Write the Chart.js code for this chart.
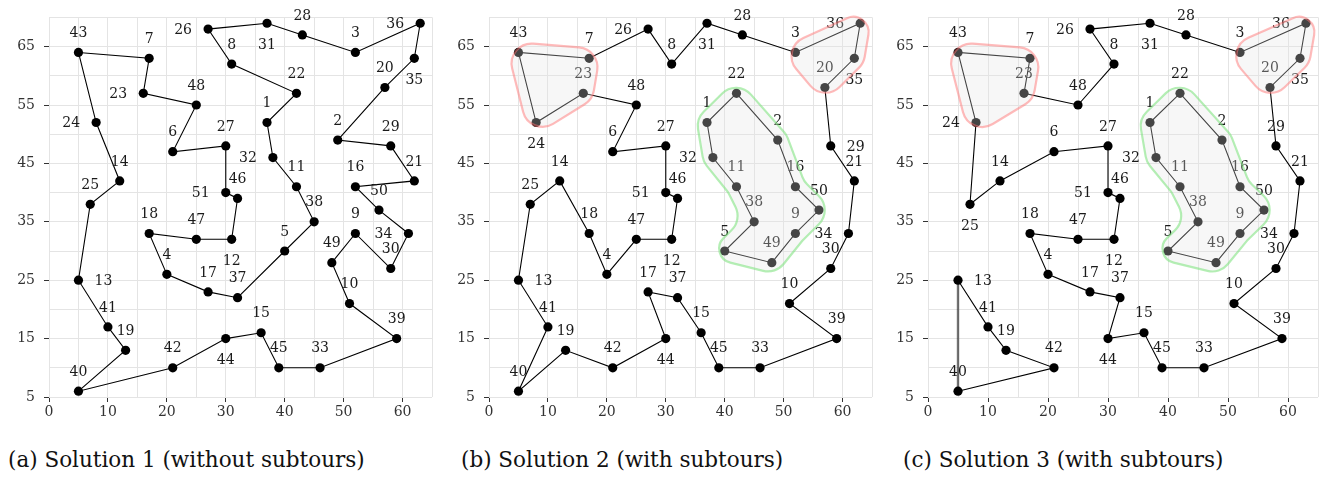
<!DOCTYPE html>
<html>
<head>
<meta charset="utf-8">
<script src="https://cdn.jsdelivr.net/npm/chart.js@4.4.1/dist/chart.umd.min.js"></script>
<style>
  body { margin: 0; background: #fff; width: 1327px; height: 479px; position: relative; overflow: hidden; }
  canvas { position: absolute; top: 0; }
  .cap { position: absolute; top: 447px; font-family: "DejaVu Serif"; font-size: 21.5px; color: #111; white-space: nowrap; }
</style>
</head>
<body>
<canvas id="pa" width="440" height="425" style="left:0px"></canvas>
<canvas id="pb" width="440" height="425" style="left:440px"></canvas>
<canvas id="pc" width="447" height="425" style="left:879px"></canvas>
<div class="cap" style="left:8px">(a) Solution 1 (without subtours)</div>
<div class="cap" style="left:461px">(b) Solution 2 (with subtours)</div>
<div class="cap" style="left:903px">(c) Solution 3 (with subtours)</div>
<script>
// city coordinates, city n is at index n-1
const cityX = [37,49,52,20,40,21,17,31,52,51,42,31,5,12,36,52,27,17,13,57,62,42,16,8,7,27,30,43,58,58,37,38,46,61,62,63,32,45,59,5,10,21,5,30,39,32,25,25,48,56,30];
const cityY = [52,49,64,26,30,47,63,62,33,21,41,32,25,42,16,41,23,33,13,58,42,57,57,52,38,68,48,67,48,27,69,46,10,33,63,69,22,35,15,6,17,10,64,15,10,39,32,55,28,37,40];

// routes (closed ones get the first city repeated when drawn)
const tourA = [43,7,23,48,6,27,51,46,12,47,18,4,17,37,5,38,11,32,1,22,8,26,31,28,3,36,35,20,2,29,21,16,50,34,30,9,49,10,39,33,45,15,44,42,40,19,41,13,25,14,24];
const tourB = [26,8,31,28,3,36,35,20,29,21,34,30,10,39,33,45,15,37,17,44,42,19,40,41,13,25,14,18,4,47,12,46,51,27,6,48,23,24,43,7];
const tourC = [25,24,43,7,23,48,8,26,31,28,3,36,35,20,29,21,34,30,10,39,33,45,15,44,37,17,4,18,47,12,46,51,27,6,14];
const subGreen = [22,2,16,50,9,49,5,38,11,32,1];
const subC = [40,42,19,41,13];
const subCClose = [13,40];

// highlighted groups
const hullLeft = [43,7,23,24];
const hullRight = [3,36,35,20];

// ticks
const xLabelled = [0,10,20,30,40,50,60];
const yLabelled = [5,15,25,35,45,55,65];

// label placement (T above is default)
const OFF = { T: [0,-20], B: [0,21], L: [-25,0], R: [25,0] };
const sidesCommon = {26:'L',51:'L',31:'B',36:'L',35:'B',32:'L',13:'R',34:'L',12:'B',44:'B'};
const sidesA = Object.assign({}, sidesCommon, {23:'L',24:'L'});
const sidesB = Object.assign({}, sidesCommon, {24:'B',29:'R'});
const sidesC = Object.assign({}, sidesCommon, {24:'L',25:'B'});

const RED = 'rgba(255,120,120,0.5)';
const GREEN = 'rgba(120,225,120,0.55)';

const serif = '"DejaVu Serif", serif';

function pts(ids, closed) {
  const p = ids.map(i => ({x: cityX[i-1], y: cityY[i-1]}));
  if (closed) p.push(p[0]);
  return p;
}

// expanded polygon with rounded corners (like a hull mark)
function hullPath(ctx, P, e, R) {
  const n = P.length;
  let A = 0;
  for (let i = 0; i < n; i++) {
    const a = P[i], b = P[(i+1)%n];
    A += a[0]*b[1] - b[0]*a[1];
  }
  const lines = [];
  for (let i = 0; i < n; i++) {
    const a = P[i], b = P[(i+1)%n];
    let dx = b[0]-a[0], dy = b[1]-a[1];
    const L = Math.hypot(dx, dy);
    dx /= L; dy /= L;
    const nx = A > 0 ? dy : -dy, ny = A > 0 ? -dx : dx;
    lines.push({p: [a[0]+nx*e, a[1]+ny*e], d: [dx, dy], n: [nx, ny]});
  }
  const Q = [];
  for (let i = 0; i < n; i++) {
    const l1 = lines[(i-1+n)%n], l2 = lines[i];
    const cr = l1.d[0]*l2.d[1] - l1.d[1]*l2.d[0];
    if (Math.abs(cr) < 1e-6) {
      Q.push([P[i][0]+l2.n[0]*e, P[i][1]+l2.n[1]*e]);
    } else {
      const bx = l2.p[0]-l1.p[0], by = l2.p[1]-l1.p[1];
      const t = (bx*l2.d[1] - by*l2.d[0]) / cr;
      Q.push([l1.p[0]+l1.d[0]*t, l1.p[1]+l1.d[1]*t]);
    }
  }
  const m0 = [(Q[n-1][0]+Q[0][0])/2, (Q[n-1][1]+Q[0][1])/2];
  ctx.moveTo(m0[0], m0[1]);
  for (let i = 0; i < n; i++) {
    const q = Q[i], pr = Q[(i-1+n)%n], nx = Q[(i+1)%n];
    const ax = pr[0]-q[0], ay = pr[1]-q[1], bx = nx[0]-q[0], by = nx[1]-q[1];
    const la = Math.hypot(ax, ay), lb = Math.hypot(bx, by);
    const cosT = Math.max(-1, Math.min(1, (ax*bx + ay*by) / (la*lb)));
    const half = Math.acos(cosT) / 2;
    const r = Math.min(R, 0.5*Math.min(la, lb)*Math.tan(half));
    ctx.arcTo(q[0], q[1], nx[0], nx[1], Math.max(r, 0.1));
  }
  ctx.closePath();
}

function labelPlugin(sides, hulls) {
  return {
    id: 'labelsHulls',
    afterDatasetsDraw(chart) {
      const ctx = chart.ctx, xs = chart.scales.x, ys = chart.scales.y;
      ctx.save();
      ctx.font = '14px ' + serif;
      ctx.fillStyle = '#1a1a1a';
      ctx.textAlign = 'center';
      ctx.textBaseline = 'middle';
      cityX.forEach((x, i) => {
        const id = i + 1;
        const o = OFF[sides[id] || 'T'];
        ctx.fillText(String(id), xs.getPixelForValue(x) + o[0], ys.getPixelForValue(cityY[i]) + o[1] + 1);
      });
      hulls.forEach(h => {
        const P = h.ids.map(id => [xs.getPixelForValue(cityX[id-1]), ys.getPixelForValue(cityY[id-1])]);
        ctx.beginPath();
        hullPath(ctx, P, 10, 20);
        ctx.fillStyle = 'rgba(228,228,228,0.3)';
        ctx.fill();
        ctx.strokeStyle = h.color;
        ctx.lineWidth = 2.2;
        ctx.stroke();
      });
      ctx.restore();
    }
  };
}

function makePanel(id, routes, sides, hulls) {
  const datasets = routes.map(r => ({
    data: pts(r.ids, r.closed),
    showLine: true,
    borderColor: r.color || '#000',
    borderWidth: r.width || 1.1,
    pointRadius: 0,
    fill: false
  }));
  datasets.push({
    data: pts(cityX.map((_, i) => i + 1), false),
    showLine: false,
    pointRadius: 4.6,
    pointBorderWidth: 0,
    pointBackgroundColor: '#000'
  });
  const tickCol = (list) => (c) => (c.tick && list.includes(c.tick.value)) ? '#333' : 'rgba(0,0,0,0)';
  new Chart(document.getElementById(id), {
    type: 'scatter',
    data: { datasets },
    options: {
      animation: false,
      responsive: false,
      devicePixelRatio: 1,
      layout: { padding: { top: 13, right: 8, left: 0, bottom: 0 } },
      plugins: { legend: { display: false }, tooltip: { enabled: false } },
      scales: {
        x: {
          min: 0, max: 65,
          afterFit: s => { s.height = 28; },
          border: { display: false },
          grid: { color: '#e4e4e4', lineWidth: 1, tickLength: 5, tickColor: tickCol(xLabelled) },
          ticks: {
            stepSize: 5, autoSkip: false, maxRotation: 0, padding: 2, color: '#333',
            font: { family: serif, size: 14 },
            callback: v => xLabelled.includes(v) ? String(v) : ''
          }
        },
        y: {
          min: 5, max: 70,
          afterFit: s => { s.width = 49; },
          border: { display: false },
          grid: { color: '#e4e4e4', lineWidth: 1, tickLength: 5, tickColor: tickCol(yLabelled) },
          ticks: {
            stepSize: 5, autoSkip: false, padding: 9, color: '#333',
            font: { family: serif, size: 14 },
            callback: v => yLabelled.includes(v) ? String(v) : ''
          }
        }
      }
    },
    plugins: [labelPlugin(sides, hulls)]
  });
}

makePanel('pa', [{ids: tourA, closed: true}], sidesA, []);

makePanel('pb', [
  {ids: tourB, closed: true},
  {ids: subGreen, closed: true}
], sidesB, [
  {ids: hullLeft, color: RED},
  {ids: hullRight, color: RED},
  {ids: subGreen, color: GREEN}
]);

makePanel('pc', [
  {ids: tourC, closed: true},
  {ids: subGreen, closed: true},
  {ids: subC, closed: false},
  {ids: subCClose, closed: false, color: 'rgba(0,0,0,0.55)', width: 2.4}
], sidesC, [
  {ids: hullLeft, color: RED},
  {ids: hullRight, color: RED},
  {ids: subGreen, color: GREEN}
]);
</script>
</body>
</html>
